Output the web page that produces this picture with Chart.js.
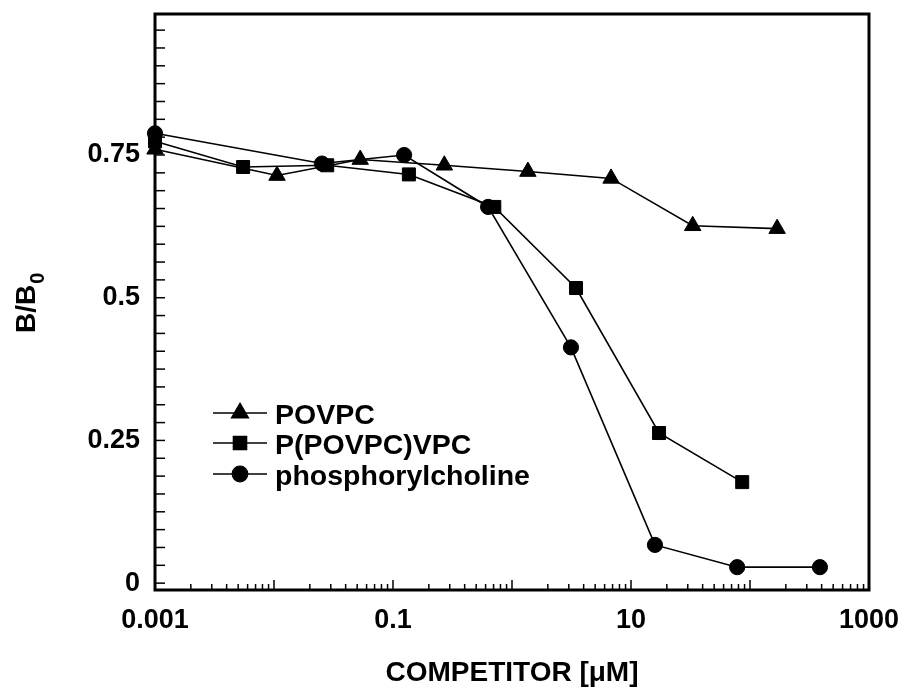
<!DOCTYPE html>
<html>
<head>
<meta charset="utf-8">
<script src="https://cdn.jsdelivr.net/npm/chart.js@4/dist/chart.umd.min.js"></script>
<style>
  html, body { margin: 0; padding: 0; background: #fff; }
  #wrap { width: 904px; height: 688px; }
</style>
</head>
<body>
<div id="wrap"><canvas id="c" width="904" height="688"></canvas></div>
<script>
// ---- Data ----
const seriesNames = ['POVPC', 'P(POVPC)VPC', 'phosphorylcholine'];

const xPOVPC = [0.001, 0.0106, 0.053, 0.27, 1.36, 6.8, 33, 169];
const yPOVPC = [0.760, 0.714, 0.742, 0.732, 0.721, 0.709, 0.626, 0.621];

const xPPVPC = [0.001, 0.0055, 0.028, 0.136, 0.71, 3.45, 17.2, 86];
const yPPVPC = [0.774, 0.729, 0.732, 0.716, 0.659, 0.517, 0.263, 0.177];

const xPC = [0.001, 0.0253, 0.124, 0.63, 3.13, 15.9, 78, 387];
const yPC = [0.788, 0.735, 0.750, 0.659, 0.413, 0.067, 0.028, 0.028];

// ---- Tick labels ----
const xTickValues = [0.001, 0.1, 10, 1000];
const xTickLabels = ['0.001', '0.1', '10', '1000'];
const yTickValues = [0, 0.25, 0.5, 0.75];
const yTickLabels = ['0', '0.25', '0.5', '0.75'];
const yMinorStep = 0.03125;

const xTitle = 'COMPETITOR [\u03BCM]';
const yTitleMain = 'B/B';
const yTitleSub = '0';

// ---- Styling ----
const FONT = '"Liberation Sans", Arial, Helvetica, sans-serif';
const pointStyles = ['triangle', 'rect', 'circle'];
const pointRadii = [9.5, 9.2, 7.6];

function pts(xs, ys) { return xs.map((x, i) => ({ x: x, y: ys[i] })); }

const seriesData = [pts(xPOVPC, yPOVPC), pts(xPPVPC, yPPVPC), pts(xPC, yPC)];

const datasets = seriesNames.map((name, i) => ({
  label: name,
  data: seriesData[i],
  showLine: true,
  tension: 0,
  borderColor: '#000',
  backgroundColor: '#000',
  borderWidth: 1.6,
  pointStyle: pointStyles[i],
  pointRadius: pointRadii[i],
  pointHoverRadius: pointRadii[i],
  pointBackgroundColor: '#000',
  pointBorderColor: '#000',
  pointBorderWidth: 1,
  clip: false
}));

function findLabel(values, labels, v) {
  for (let i = 0; i < values.length; i++) {
    if (Math.abs(values[i] - v) < 1e-9 * Math.max(1, Math.abs(v)) || Math.abs(values[i] - v) < 1e-12) return labels[i];
  }
  return '';
}

function zeroPad(scale) {
  scale.paddingTop = 0; scale.paddingBottom = 0;
  scale.paddingLeft = 0; scale.paddingRight = 0;
}

const framePlugin = {
  id: 'frame',
  afterDraw(chart) {
    const ctx = chart.ctx;
    const a = chart.chartArea;
    const xs = chart.scales.x, ys = chart.scales.y;
    ctx.save();
    ctx.strokeStyle = '#000';
    // inward ticks on y
    ctx.lineWidth = 1.5;
    ys.ticks.forEach(t => {
      const py = ys.getPixelForValue(t.value);
      if (py < a.top + 4 || py > a.bottom + 1) return;
      ctx.beginPath();
      ctx.moveTo(a.left, py);
      ctx.lineTo(a.left + 10, py);
      ctx.stroke();
    });
    // inward ticks on x
    xs.ticks.forEach(t => {
      const px = xs.getPixelForValue(t.value);
      const lg = Math.log10(t.value);
      const major = Math.abs(lg - Math.round(lg)) < 1e-9;
      ctx.beginPath();
      ctx.moveTo(px, a.bottom);
      ctx.lineTo(px, a.bottom - (major ? 10 : 6));
      ctx.stroke();
    });
    // frame
    ctx.lineWidth = 3;
    ctx.beginPath();
    ctx.rect(a.left, a.top, a.right - a.left, a.bottom - a.top);
    ctx.stroke();

    // axis titles
    ctx.fillStyle = '#000';
    ctx.font = 'bold 28px ' + FONT;
    ctx.textAlign = 'center';
    ctx.textBaseline = 'middle';
    ctx.fillText(xTitle, (a.left + a.right) / 2, 673);

    ctx.save();
    ctx.translate(35, 333);
    ctx.rotate(-Math.PI / 2);
    ctx.textAlign = 'left';
    ctx.textBaseline = 'alphabetic';
    ctx.font = 'bold 28px ' + FONT;
    ctx.fillText(yTitleMain, 0, 0);
    const w = ctx.measureText(yTitleMain).width;
    ctx.font = 'bold 20px ' + FONT;
    ctx.fillText(yTitleSub, w + 1, 9);
    ctx.restore();

    // legend
    const rows = [413, 443, 474];
    chart.data.datasets.forEach((ds, i) => {
      const y = rows[i];
      ctx.strokeStyle = '#000';
      ctx.lineWidth = 1.6;
      ctx.beginPath();
      ctx.moveTo(213, y);
      ctx.lineTo(267, y);
      ctx.stroke();
      ctx.fillStyle = '#000';
      Chart.helpers.drawPoint(ctx, {
        pointStyle: ds.pointStyle, radius: ds.pointRadius, borderWidth: 1, rotation: 0
      }, 240, y);
      ctx.fillStyle = '#000';
      ctx.font = 'bold 28.5px ' + FONT;
      ctx.textAlign = 'left';
      ctx.textBaseline = 'alphabetic';
      ctx.fillText(ds.label, 275, y + 11);
    });
    ctx.restore();
  }
};

new Chart(document.getElementById('c'), {
  type: 'scatter',
  data: { datasets: datasets },
  plugins: [framePlugin],
  options: {
    responsive: false,
    animation: false,
    devicePixelRatio: 1,
    layout: { padding: { left: 0, right: 35, top: 14, bottom: 0 } },
    plugins: { legend: { display: false }, tooltip: { enabled: false } },
    scales: {
      x: {
        type: 'logarithmic',
        position: 'bottom',
        min: 0.001,
        max: 1000,
        grid: { display: false, drawTicks: false },
        border: { display: false },
        afterBuildTicks(scale) {
          const t = [];
          for (let e = -3; e < 3; e++) {
            for (let d = 1; d <= 9; d++) t.push({ value: d * Math.pow(10, e) });
          }
          t.push({ value: 1000 });
          scale.ticks = t;
        },
        afterFit(scale) { scale.height = 98; zeroPad(scale); },
        ticks: {
          autoSkip: false,
          maxRotation: 0,
          minRotation: 0,
          padding: 14,
          color: '#000',
          font: { family: FONT, size: 27, weight: 'bold' },
          callback: (v) => findLabel(xTickValues, xTickLabels, v)
        }
      },
      y: {
        type: 'linear',
        min: -0.012,
        max: 0.997,
        grid: { display: false, drawTicks: false },
        border: { display: false },
        afterBuildTicks(scale) {
          const t = [];
          for (let k = 0; k * yMinorStep <= 0.97; k++) t.push({ value: k * yMinorStep });
          scale.ticks = t;
        },
        afterFit(scale) { scale.width = 155; zeroPad(scale); },
        ticks: {
          autoSkip: false,
          padding: 15,
          color: '#000',
          font: { family: FONT, size: 27, weight: 'bold' },
          callback: (v) => findLabel(yTickValues, yTickLabels, v)
        }
      }
    }
  }
});
</script>
</body>
</html>
